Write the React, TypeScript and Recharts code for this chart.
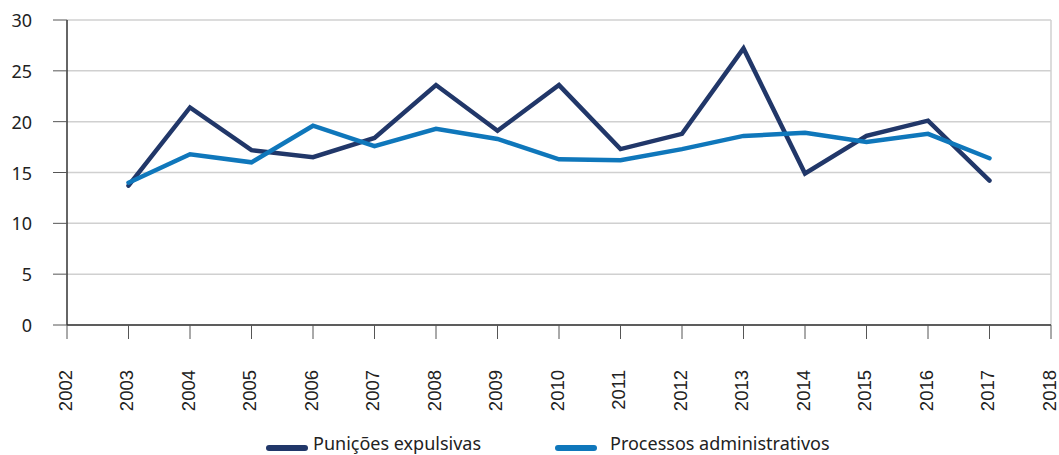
import React from "react";
import { LineChart, Line, XAxis, YAxis, CartesianGrid, ReferenceLine } from "recharts";

const years = [2003, 2004, 2005, 2006, 2007, 2008, 2009, 2010, 2011, 2012, 2013, 2014, 2015, 2016, 2017];
const punicoes = [13.7, 21.4, 17.2, 16.5, 18.4, 23.6, 19.1, 23.6, 17.3, 18.8, 27.2, 14.9, 18.6, 20.1, 14.2];
const processos = [14.0, 16.8, 16.0, 19.6, 17.6, 19.3, 18.3, 16.3, 16.2, 17.3, 18.6, 18.9, 18.0, 18.8, 16.4];
const xTicks = [2002, 2003, 2004, 2005, 2006, 2007, 2008, 2009, 2010, 2011, 2012, 2013, 2014, 2015, 2016, 2017, 2018];
const yTicks = [0, 5, 10, 15, 20, 25, 30];
const seriesNames = ["Punições expulsivas", "Processos administrativos"];
const colors = ["#213769", "#0f77bb"];

const data = years.map((y, i) => ({ year: y, a: punicoes[i], b: processos[i] }));

const FONT = "'Noto Sans', 'Open Sans', sans-serif";

const XTick = (props: any) => {
  const { x, y, payload } = props;
  return (
    <text
      x={0}
      y={0}
      transform={`translate(${x - 2},${y + 29}) rotate(-90)`}
      textAnchor="end"
      dominantBaseline="central"
      fontSize={18.5}
      fontFamily="'Liberation Sans', Arial, sans-serif"
      fill="#222"
    >
      {payload.value}
    </text>
  );
};

const YTick = (props: any) => {
  const { x, y, payload } = props;
  return (
    <text x={x - 19} y={y} textAnchor="end" dominantBaseline="central" fontSize={18} fontFamily={FONT} fill="#222">
      {payload.value}
    </text>
  );
};

const legendIcons = [266, 555];
const legendTexts = [313, 610];

const LegendBox = () => (
  <div
    style={{
      position: "absolute",
      left: 0,
      top: 430,
      width: 1059,
      height: 25,
      fontFamily: FONT,
      fontSize: 18,
      color: "#222",
    }}
  >
    {seriesNames.map((n, i) => (
      <React.Fragment key={n}>
        <div
          style={{
            position: "absolute",
            left: legendIcons[i],
            top: 15,
            width: 42,
            height: 6,
            borderRadius: 3,
            background: colors[i],
          }}
        />
        <span style={{ position: "absolute", left: legendTexts[i], top: 1, whiteSpace: "nowrap", lineHeight: "24px" }}>{n}</span>
      </React.Fragment>
    ))}
  </div>
);

export default function App() {
  return (
    <div style={{ position: "absolute", left: 0, top: 0, width: 1059, height: 455, background: "#fff", overflow: "hidden" }}>
      <LineChart width={1059} height={430} data={data} margin={{ top: 20, right: 8, left: 0, bottom: 0 }}>
        <CartesianGrid vertical={false} horizontal={true} stroke="#d0d0d0" strokeWidth={1.5} />
        <ReferenceLine x={2018} stroke="#d0d0d0" strokeWidth={1.5} />
        <XAxis
          dataKey="year"
          type="number"
          domain={[2002, 2018]}
          ticks={xTicks}
          interval={0}
          height={105}
          tickSize={14}
          tickLine={{ stroke: "#555" }}
          axisLine={{ stroke: "#333", strokeWidth: 1.5 }}
          tick={<XTick />}
        />
        <YAxis
          domain={[0, 30]}
          ticks={yTicks}
          width={67}
          tickSize={14}
          tickLine={{ stroke: "#555" }}
          axisLine={{ stroke: "#333", strokeWidth: 1.5 }}
          tick={<YTick />}
        />
        <Line type="linear" dataKey="a" stroke={colors[0]} strokeWidth={4.5} dot={false} isAnimationActive={false} strokeLinecap="round" />
        <Line type="linear" dataKey="b" stroke={colors[1]} strokeWidth={4.5} dot={false} isAnimationActive={false} strokeLinecap="round" />
      </LineChart>
      <LegendBox />
    </div>
  );
}
